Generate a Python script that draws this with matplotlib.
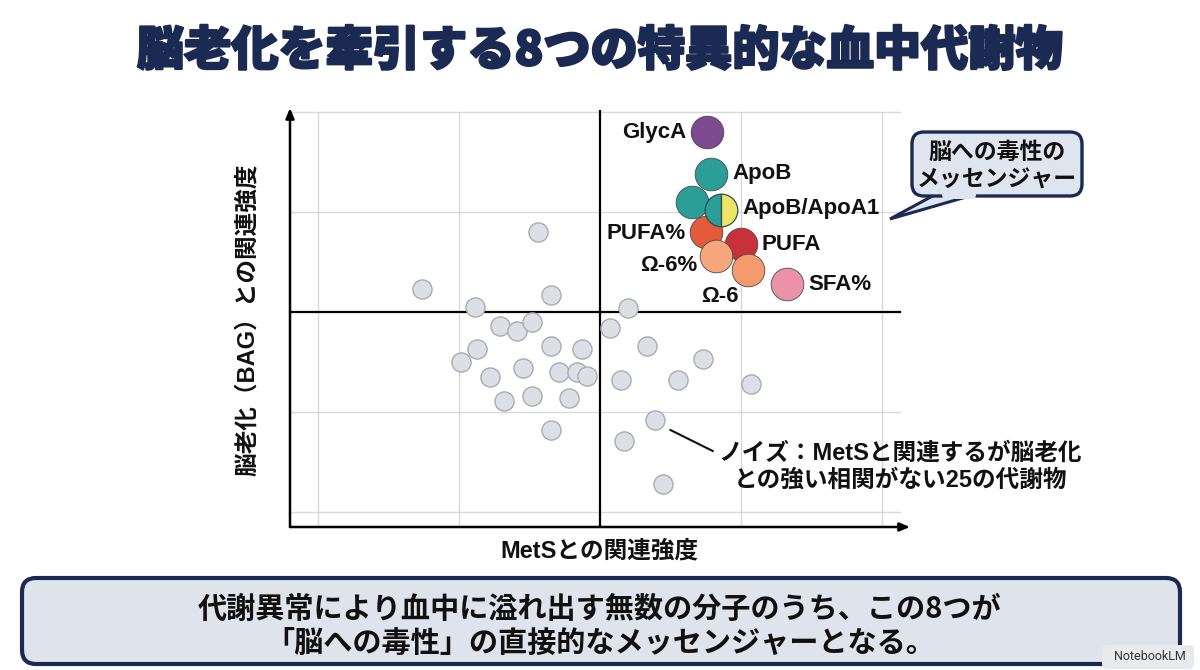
import matplotlib
matplotlib.use("Agg")
import matplotlib.pyplot as plt
from matplotlib.patches import FancyBboxPatch, Polygon
import matplotlib.patheffects as pe

# ---------------- data ----------------
title = "脳老化を牽引する8つの特異的な血中代謝物"
x_label = "MetSとの関連強度"
y_label = "脳老化（BAG）との関連強度"

# 8 key metabolites (+ one unlabeled companion circle)
key_names = ["GlycA", "ApoB", "", "PUFA%", "ApoB/ApoA1", "PUFA", "Ω-6%", "Ω-6", "SFA%"]
key_x = [0.76, 0.79, 0.65, 0.75, 0.86, 1.00, 0.82, 1.05, 1.33]
key_y = [1.80, 1.38, 1.10, 0.80, 1.02, 0.68, 0.56, 0.42, 0.28]
key_colors = ["#7b4a8f", "#2b9e98", "#2b9e98", "#e35b3b", "#2b9e98",
              "#c9313a", "#f6a67b", "#f49a6c", "#eb91a8"]
key_alt_color = "#f0e466"   # right half of ApoB/ApoA1

# noise metabolites
noise_x = [-0.44, -1.26, -0.35, -0.89, -0.71, -0.59, -0.48, -0.87, -0.99, -0.35,
           -0.13, -0.55, -0.78, -0.29, -0.16, -0.09, -0.68, -0.48, -0.22, -0.35,
           0.20, 0.07, 0.33, 0.73, 0.15, 0.55, 1.07, 0.39, 0.17, 0.45]
noise_y = [0.80, 0.23, 0.17, 0.05, -0.14, -0.19, -0.10, -0.37, -0.50, -0.34,
           -0.37, -0.56, -0.65, -0.60, -0.60, -0.64, -0.89, -0.84, -0.86, -1.18,
           0.04, -0.16, -0.34, -0.47, -0.68, -0.68, -0.72, -1.08, -1.29, -1.72]

callout_text = "脳への毒性の\nメッセンジャー"
noise_text = "ノイズ：MetSと関連するが脳老化\nとの強い相関がない25の代謝物"
bottom_text = "代謝異常により血中に溢れ出す無数の分子のうち、この8つが\n「脳への毒性」の直接的なメッセンジャーとなる。"

grid_vals = [-2, -1, 1, 2]

NAVY = "#1b2a52"
JP = ["Liberation Sans", "Noto Sans CJK JP", "DejaVu Sans"]
JPN = ["Noto Sans CJK JP", "DejaVu Sans"]

W, H = 1200, 670
fig = plt.figure(figsize=(12, 6.7), dpi=100)
fig.patch.set_facecolor("white")

# ---------------- main scatter axes ----------------
L, R, T, B = 290, 910, 110, 527
ax = fig.add_axes([L / W, 1 - B / H, (R - L) / W, (B - T) / H])
ax.set_xlim(-2.2, 2.2)
ax.set_ylim(-2.15, 2.02)
ax.axis("off")

for g in grid_vals:
    ax.plot([g, g], [-2.15, 2.0], color="#d8d8d8", lw=1.0, zorder=1)
for g in grid_vals:
    ax.plot([-2.2, 2.13], [g, g], color="#d8d8d8", lw=1.0, zorder=1)
ax.plot([-2.2, 2.13], [0, 0], color="black", lw=1.6, zorder=2)
ax.plot([0, 0], [-2.15, 2.04], color="black", lw=1.6, zorder=2)

# axes with arrows
ax.annotate("", xy=(-2.2, 2.04), xytext=(-2.2, -2.15),
            arrowprops=dict(arrowstyle="-|>,head_length=0.6,head_width=0.25",
                            lw=1.8, color="black", shrinkA=0, shrinkB=0),
            annotation_clip=False, zorder=3)
ax.annotate("", xy=(2.2, -2.15), xytext=(-2.2, -2.15),
            arrowprops=dict(arrowstyle="-|>,head_length=0.6,head_width=0.25",
                            lw=1.8, color="black", shrinkA=0, shrinkB=0),
            annotation_clip=False, zorder=3)

# noise points
ax.scatter(noise_x, noise_y, s=190, facecolor="#dcdfe6", edgecolor="#a9acb3",
           linewidth=1.0, zorder=4, clip_on=False)

# key points
for i, (nm, x, y, c) in enumerate(zip(key_names, key_x, key_y, key_colors)):
    if nm == "ApoB/ApoA1":
        ax.plot([x], [y], marker="o", markersize=23.5, fillstyle="left",
                markerfacecolor=c, markerfacecoloralt=key_alt_color,
                markeredgecolor="#2d4f4d", markeredgewidth=0.9,
                zorder=5 + i, clip_on=False)
    else:
        ax.plot([x], [y], marker="o", markersize=23.5, color=c,
                markeredgecolor="#4a4a4a", markeredgewidth=0.6,
                zorder=5 + i, clip_on=False)

label_offsets = {
    "GlycA": (-15, -0.7, "right", "center"),
    "ApoB": (15, 0, "left", "center"),
    "ApoB/ApoA1": (15.3, 1.4, "left", "center"),
    "PUFA%": (-14.4, -1.0, "right", "center"),
    "PUFA": (14.6, -0.5, "left", "center"),
    "Ω-6%": (-13.2, -6.5, "right", "center"),
    "Ω-6": (-20.4, -19.2, "center", "center"),
    "SFA%": (15.1, -0.5, "left", "center"),
}
for nm, x, y in zip(key_names, key_x, key_y):
    if not nm:
        continue
    dx, dy, ha, va = label_offsets[nm]
    ax.annotate(nm, xy=(x, y), xytext=(dx, dy), textcoords="offset points",
                ha=ha, va=va, fontsize=16, fontweight="bold",
                family=JP, color="#111111", zorder=20, annotation_clip=False)

# noise annotation
ax.plot([0.50, 0.80], [-1.18, -1.39], color="#111111", lw=1.5, zorder=6)
ax.text(2.13, -1.55, noise_text, ha="center", va="center", fontsize=17,
        fontweight="bold", family=JP, color="#111111", linespacing=1.2,
        multialignment="center", zorder=20, clip_on=False)

# ---------------- overlay (pixel space) ----------------
ov = fig.add_axes([0, 0, 1, 1], facecolor="none")
ov.set_xlim(0, W)
ov.set_ylim(H, 0)
ov.axis("off")

# title
ov.text(600, 51, title, ha="center", va="center", fontsize=34,
        fontweight="heavy", family=JPN, color=NAVY,
        path_effects=[pe.withStroke(linewidth=1.6, foreground=NAVY)])

# axis labels
ov.text(599, 551, x_label, ha="center", va="center", fontsize=17,
        fontweight="bold", family=JP, color="#111111")
ov.text(247, 320, y_label, ha="center", va="center", fontsize=17,
        fontweight="bold", family=JP, color="#111111", rotation=90)

# callout bubble
tail = Polygon([(938, 193), (980, 193), (890, 219)], closed=True,
               facecolor="#dfe5ef", edgecolor=NAVY, lw=2.2, zorder=2)
ov.add_patch(tail)
box = FancyBboxPatch((920, 140), 154, 48, boxstyle="round,pad=8,rounding_size=12",
                     facecolor="#dfe5ef", edgecolor=NAVY, lw=2.4, zorder=3)
ov.add_patch(box)
cover = Polygon([(941, 191), (977, 191), (975, 199), (943, 199)], closed=True,
                facecolor="#dfe5ef", edgecolor="none", zorder=4)
ov.add_patch(cover)
ov.text(997, 166, callout_text, ha="center", va="center", fontsize=16.5,
        fontweight="bold", family=JPN, color="#111111", linespacing=1.25,
        zorder=5)

# bottom box
bbox_patch = FancyBboxPatch((34, 590), 1134, 62,
                            boxstyle="round,pad=12,rounding_size=14",
                            facecolor="#dfe3ec", edgecolor=NAVY, lw=3, zorder=2)
ov.add_patch(bbox_patch)
ov.text(600, 626, bottom_text, ha="center", va="center", fontsize=21,
        fontweight="bold", family=JPN, color="#111111", linespacing=1.2,
        zorder=3)

# watermark
wm = FancyBboxPatch((1104, 647), 88, 20, boxstyle="round,pad=2,rounding_size=5",
                    facecolor="#e9eaee", edgecolor="none", zorder=6)
ov.add_patch(wm)
ov.text(1150, 657, "NotebookLM", ha="center", va="center", fontsize=9,
        family=["Roboto", "DejaVu Sans"], color="#333333", zorder=7)

fig.savefig("out.png", dpi=100, facecolor="white")
